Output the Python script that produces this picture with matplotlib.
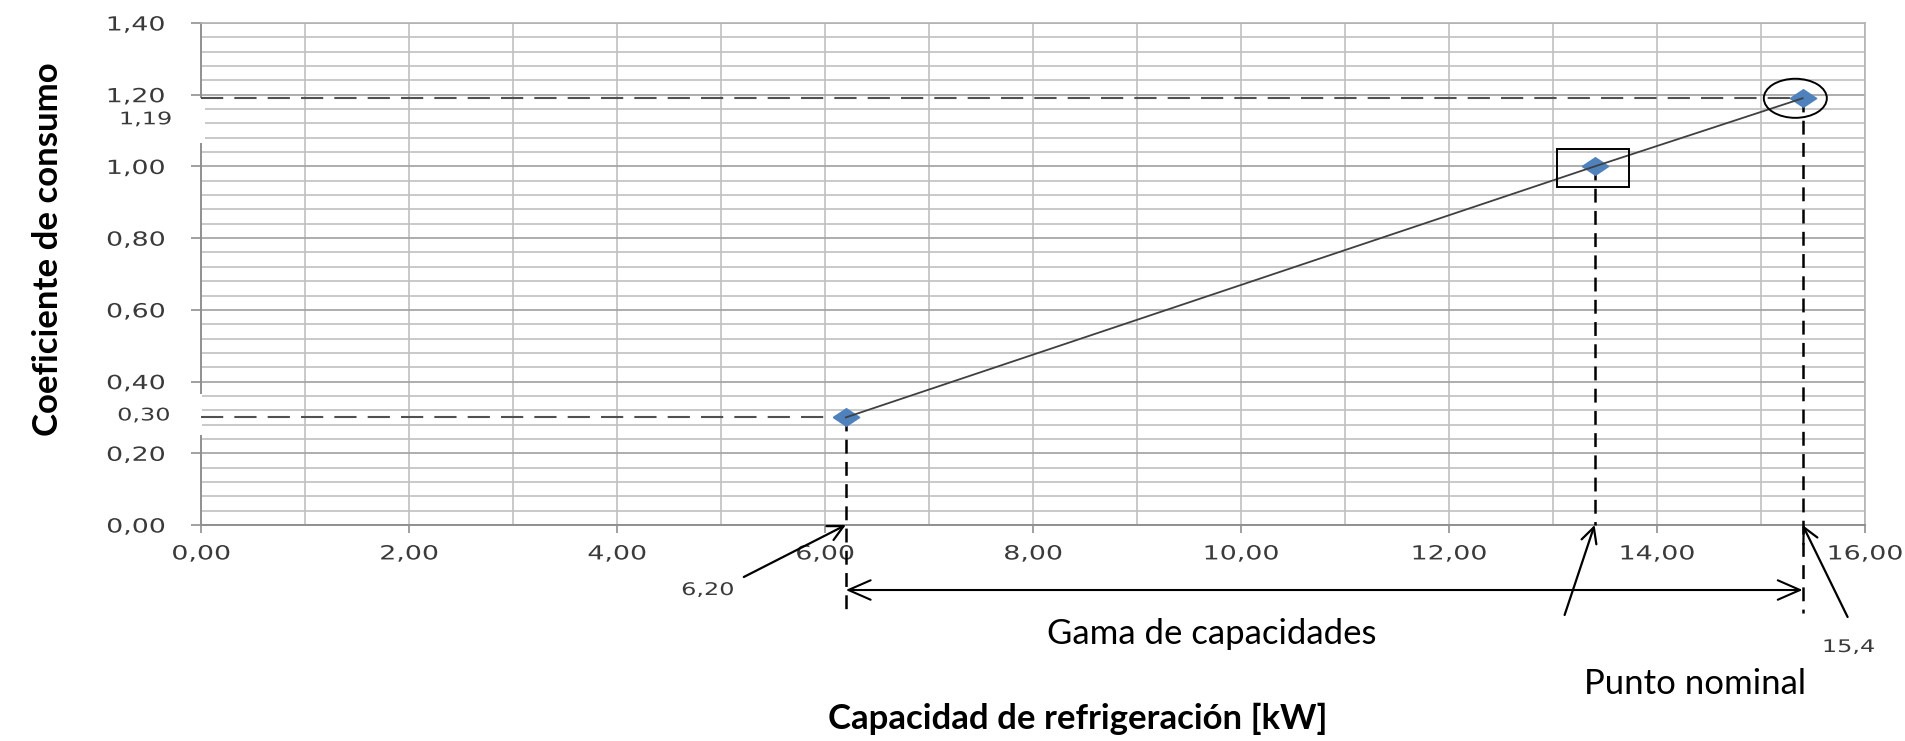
import numpy as np
import matplotlib
matplotlib.use("Agg")
import matplotlib.pyplot as plt
import matplotlib.patheffects as pe
from matplotlib.patches import Rectangle, Ellipse
from matplotlib.transforms import Affine2D

# data
cap_kw = [6.20, 13.40, 15.40]
coef = [0.30, 1.00, 1.19]
xticks = np.arange(0, 17, 2)
yticks = np.arange(0, 1.41, 0.2)
xlabels = [f"{v:.2f}".replace(".", ",") for v in xticks]
ylabels = [f"{v:.2f}".replace(".", ",") for v in yticks]
point_labels = ["6,20", "1,19", "0,30", "15,4"]

plt.rcParams["lines.scale_dashes"] = False
W, H = 1905, 741


class Stretch(pe.AbstractPathEffect):
    # the original tick labels are horizontally stretched
    def __init__(self, sx=1.35):
        super().__init__()
        self.sx = sx

    def draw_path(self, renderer, gc, tpath, affine, rgbFace=None):
        ext = tpath.get_extents()
        cx = 0.5 * (ext.x0 + ext.x1)
        tr = Affine2D().translate(-cx, 0).scale(self.sx, 1).translate(cx, 0) + affine
        renderer.draw_path(gc, tpath, tr, rgbFace)


fig = plt.figure(figsize=(W / 100, H / 100), dpi=100)
ax = fig.add_axes([201 / W, 1 - 525 / H, 1664 / W, 502 / H])
ax.set_xlim(0, 16)
ax.set_ylim(0, 1.4)

tick_col = "#3a3a3a"
ax.set_xticks(xticks, labels=xlabels)
ax.set_yticks(yticks, labels=ylabels)
ax.set_xticks(np.arange(0, 17, 1), minor=True)
ax.set_yticks(np.linspace(0, 1.4, 36), minor=True)
ax.tick_params(which="minor", length=0)
ax.tick_params(axis="x", which="major", length=6, width=1.2, color="#909090",
               pad=8, labelsize=14, labelcolor=tick_col)
ax.tick_params(axis="y", which="major", length=7.5, width=1.2, color="#909090",
               pad=24, labelsize=14, labelcolor=tick_col)
for lab in ax.get_xticklabels() + ax.get_yticklabels():
    lab.set_path_effects([Stretch(1.38)])

ax.set_axisbelow(True)
ax.grid(which="minor", color="#c0c0c0", lw=1.2)
ax.grid(which="major", axis="x", color="#c0c0c0", lw=1.2)
ax.grid(which="major", axis="y", color="#a0a0a0", lw=1.2)
for s in ["left", "bottom"]:
    ax.spines[s].set_color("#909090")
    ax.spines[s].set_linewidth(1.4)
for s in ["top", "right"]:
    ax.spines[s].set_color("#b4b4b4")
    ax.spines[s].set_linewidth(1.2)

# white boxes behind the extra value labels break the left axis
yt = ax.get_yaxis_transform()
ax.add_patch(Rectangle((-0.012, 1.065), 0.0145, 0.125, transform=yt,
                       facecolor="white", edgecolor="none", clip_on=False, zorder=2.6))
ax.add_patch(Rectangle((-0.012, 0.25), 0.0125, 0.115, transform=yt,
                       facecolor="white", edgecolor="none", clip_on=False, zorder=2.6))

# guide lines
low_end = -0.245
ax.plot([0, cap_kw[0]], [coef[0], coef[0]], color="#505050", lw=1.5,
        dashes=(16, 8), zorder=4)
ax.plot([0, cap_kw[2]], [coef[2], coef[2]], color="#505050", lw=1.5,
        dashes=(16, 8), zorder=4)
ax.plot([cap_kw[0], cap_kw[0]], [coef[0], low_end], color="black", lw=1.8,
        dashes=(10, 6), zorder=4, clip_on=False)
ax.plot([cap_kw[1], cap_kw[1]], [coef[1], 0], color="black", lw=1.8,
        dashes=(10, 6), zorder=4, clip_on=False)
ax.plot([cap_kw[2], cap_kw[2]], [coef[2], low_end], color="black", lw=1.8,
        dashes=(10, 6), zorder=4, clip_on=False)

# series
diamond = [(-1.5, 0), (0, 1), (1.5, 0), (0, -1), (-1.5, 0)]
ax.plot(cap_kw, coef, ls="none", marker=diamond, ms=19, color="#4F81BD",
        mec="#4F81BD", zorder=4.5)
ax.plot(cap_kw, coef, color="#404040", lw=1.3, zorder=5)

# box and ellipse
ax.add_patch(Rectangle((cap_kw[1] - 0.36, coef[1] - 0.0575), 0.69, 0.106,
                       fill=False, edgecolor="black", lw=1.4, zorder=6))
ax.add_patch(Ellipse((cap_kw[2] - 0.07, coef[2]), 0.606, 0.109,
                     fill=False, edgecolor="black", lw=1.4, zorder=6))

# extra value labels on the y axis
ax.annotate(point_labels[1], xy=(0, coef[2]), xycoords=yt, xytext=(-36, -21),
            textcoords="offset pixels", ha="right", va="center", fontsize=12.5,
            color=tick_col, path_effects=[Stretch(1.38)])
ax.annotate(point_labels[2], xy=(0, coef[0]), xycoords=yt, xytext=(-38, 2),
            textcoords="offset pixels", ha="right", va="center", fontsize=12.5,
            color=tick_col, path_effects=[Stretch(1.38)])

# arrows below the axis
arr = dict(arrowstyle="->,head_length=0.55,head_width=0.28", lw=1.6,
           color="black", shrinkA=0, shrinkB=0, mutation_scale=20)
ax.annotate("", xy=(cap_kw[0], 0), xytext=(-102, -52), textcoords="offset pixels",
            arrowprops=arr, annotation_clip=False)
ax.annotate("", xy=(cap_kw[1], 0), xytext=(-30, -90), textcoords="offset pixels",
            arrowprops=arr, annotation_clip=False)
ax.annotate("", xy=(cap_kw[2], 0), xytext=(45, -92), textcoords="offset pixels",
            arrowprops=arr, annotation_clip=False)
xt = ax.get_xaxis_transform()
ax.annotate("", xy=(cap_kw[2], -0.1295), xycoords=xt, xytext=(cap_kw[0], -0.1295),
            textcoords=xt, annotation_clip=False,
            arrowprops=dict(arrowstyle="<->,head_length=0.8,head_width=0.35", lw=1.5,
                            color="black", shrinkA=0, shrinkB=0, mutation_scale=20))

ax.annotate(point_labels[0], xy=(cap_kw[0], 0), xytext=(-138, -65),
            textcoords="offset pixels", ha="center", va="center", fontsize=12.5,
            color=tick_col, path_effects=[Stretch(1.38)], annotation_clip=False)
ax.annotate(point_labels[3], xy=(cap_kw[2], 0), xytext=(46, -122),
            textcoords="offset pixels", ha="center", va="center", fontsize=12.5,
            color=tick_col, path_effects=[Stretch(1.38)], annotation_clip=False)

font = "Lato"
fig.text(1212 / W, 1 - 634 / H, "Gama de capacidades", family=font, fontsize=25,
         ha="center", va="center")
fig.text(1695 / W, 1 - 684 / H, "Punto nominal", family=font, fontsize=25,
         ha="center", va="center")
fig.text(1078 / W, 1 - 719 / H, "Capacidad de refrigeración [kW]", family=font,
         fontsize=25, fontweight="bold", ha="center", va="center")
fig.text(48 / W, 1 - 249 / H, "Coeficiente de consumo", family=font,
         fontsize=25, fontweight="bold", ha="center", va="center", rotation=90)

fig.savefig("out.png", dpi=100)
